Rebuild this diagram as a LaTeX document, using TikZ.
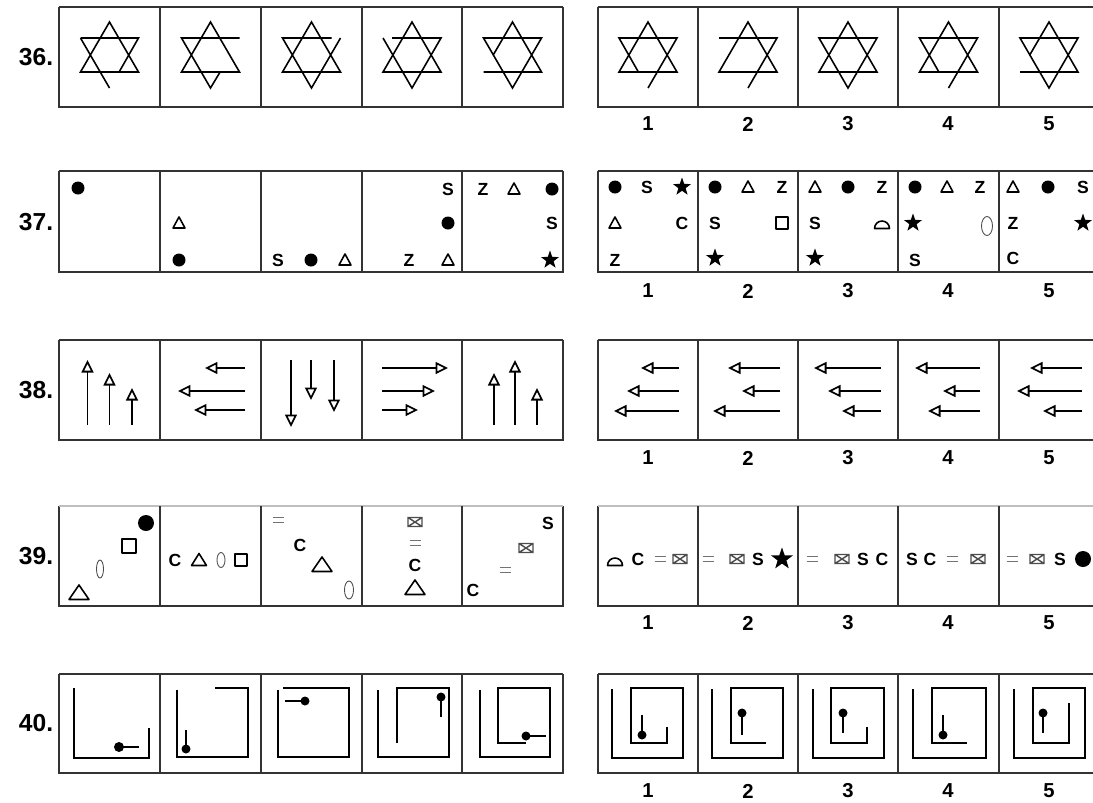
\documentclass[tikz,border=0pt]{standalone}
\usepackage{fontspec}
\setmainfont{Liberation Sans}
\usetikzlibrary{shapes.geometric, arrows.meta}

\tikzset{
  frame/.style={line width=1.1pt, draw=black!80},
  starline/.style={line width=0.9pt},
  symline/.style={line width=0.9pt, line join=round},
  spiral/.style={line width=1.1pt},
  zeroline/.style={line width=0.5pt, draw=black!70},
  letter/.style={font=\bfseries\fontsize{10}{11}\selectfont, inner sep=0pt},
  rowlabel/.style={font=\bfseries\fontsize{14}{15}\selectfont, inner sep=0pt},
  numlabel/.style={font=\bfseries\fontsize{11.5}{12}\selectfont, inner sep=0pt},
  openarrow/.style={line width=1pt, -{Triangle[open, length=2.5mm, width=2.4mm, line width=1pt]}},
  symtri/.pic={\draw[symline] (-6,5) -- (0,-6) -- (6,5) -- cycle;},
  midtri/.pic={\draw[symline] (-7.5,5.5) -- (0,-6.5) -- (7.5,5.5) -- cycle;},
  bigtri/.pic={\draw[symline] (-10,6.5) -- (0,-8) -- (10,6.5) -- cycle;},
  symdot/.pic={\fill (0,0) circle (6.5);},
  bigdot/.pic={\fill (0,0) circle (8);},
  symbox/.pic={\draw[symline] (-6,-6) rectangle (6,6);},
  bigbox/.pic={\draw[symline] (-7,-7) rectangle (7,7);},
  symcap/.pic={\draw[symline] (-7.5,3.5) arc[start angle=180, end angle=360, radius=7.5] -- cycle;},
  symcross/.pic={\draw[line width=0.8pt, black!70] (-7,-4.5) rectangle (7,4.5) (-7,-4.5) -- (7,4.5) (-7,4.5) -- (7,-4.5);},
  symeq/.pic={\draw[line width=1pt, black!55] (-5.5,-2.5) -- (5.5,-2.5) (-5.5,2.5) -- (5.5,2.5);},
  symstar/.pic={\node[star, star points=5, star point ratio=2.5, fill, inner sep=0pt, minimum size=3.8mm] {};},
  bigstar/.pic={\node[star, star points=5, star point ratio=2.5, fill, inner sep=0pt, minimum size=4.6mm] {};},
}

% one row of answer cells: top, bottom, colour of the top edge
\newcommand{\cellrow}[3]{%
  \draw[frame] (59,#1) -- (59,#2) -- (563,#2) -- (563,#1);
  \draw[frame] (598,#1) -- (598,#2) -- (1099,#2) -- (1099,#1);
  \draw[frame, draw=#3] (59,#1) -- (563,#1) (598,#1) -- (1099,#1);
  \foreach \x in {160,261,362,462} \draw[frame] (\x,#1) -- (\x,#2);
  \foreach \x in {698,798,898,999} \draw[frame] (\x,#1) -- (\x,#2);
}
\newcommand{\answernums}[2]{%
  \foreach \n [count=\k] in {648,748,848,948,1049} \node[numlabel] (num#1-\k) at (\n,#2) {\k};
}
\newcommand{\davidstar}[2]{\draw[starline, shift={#1}] #2;}

\begin{document}
\begin{tikzpicture}[x=0.02cm, y=-0.02cm]
  \useasboundingbox (0,0) rectangle (1093,802);
  \clip (0,0) rectangle (1093,802);

  \node[rowlabel] (lab36) at (36,57) {36.};
  \node[rowlabel] (lab37) at (36,222) {37.};
  \node[rowlabel] (lab38) at (36,390) {38.};
  \node[rowlabel] (lab39) at (36,556) {39.};
  \node[rowlabel] (lab40) at (36,723) {40.};

  \cellrow{7}{107}{black!80}
  \cellrow{171}{272}{black!80}
  \cellrow{340}{440}{black!80}
  \cellrow{506}{606}{black!25}
  \cellrow{674}{773}{black!80}

  \answernums{36}{124}
  \answernums{37}{291}
  \answernums{38}{458}
  \answernums{39}{623}
  \answernums{40}{791}

  % 36: stars
  \davidstar{(109.5,55)}{(-29,17) -- (0,-33) -- (29,17) -- cycle (-29,-17) -- (29,-17) -- (9.6,17) (-29,-17) -- (0,33)}
  \davidstar{(210.5,55)}{(-29,17) -- (0,-33) -- (29,17) -- cycle (29,-17) -- (-29,-17) -- (0,33) -- (9.6,17)}
  \davidstar{(311.5,55)}{(-29,17) -- (0,-33) -- (29,17) -- cycle (20,-17) -- (-29,-17) -- (0,33) -- (29,-17)}
  \davidstar{(412,55)}{(-29,17) -- (0,-33) -- (29,17) -- cycle (-20,-17) -- (29,-17) -- (0,33) -- (-29,-17)}
  \davidstar{(512.5,55)}{(-19.3,0) -- (0,-33) -- (29,17) -- (-29,17) (-29,-17) -- (0,33) -- (29,-17) -- cycle}
  \davidstar{(648,55)}{(-29,17) -- (0,-33) -- (29,17) -- cycle (-9.6,17) -- (-29,-17) -- (29,-17) -- (0,33)}
  \davidstar{(748,55)}{(-29,17) -- (0,-33) -- (29,17) -- cycle (-29,-17) -- (29,-17) -- (0,33)}
  \davidstar{(848,55)}{(-29,17) -- (0,-33) -- (29,17) -- cycle (-29,-17) -- (0,33) -- (29,-17) -- cycle}
  \davidstar{(948.5,55)}{(-29,17) -- (0,-33) -- (29,17) -- cycle (-9.6,17) -- (-29,-17) -- (29,-17) -- (0,33)}
  \davidstar{(1049,55)}{(-19.3,0) -- (0,-33) -- (29,17) -- (-29,17) (-29,-17) -- (0,33) -- (29,-17) -- cycle}

  % 37: symbols in a 3x3 grid
  \foreach \x/\y in {78/188, 179/260, 311/260, 448/223, 552/189, 615/187, 715/187, 848/187, 915/187, 1048/187}
    \pic at (\x,\y) {symdot};
  \foreach \x/\y in {179/223, 345/260, 448/260, 514/189, 615/223, 748/187, 815/187, 947/187, 1013/187}
    \pic at (\x,\y) {symtri};
  \foreach \x/\y in {550/260, 682/187, 715/258, 815/258, 913/223, 1083/223}
    \pic at (\x,\y) {symstar};
  \foreach \x/\y/\t [count=\i] in {278/260/S, 448/189/S, 409/260/Z, 483/189/Z, 552/223/S,
      647/187/S, 682/223/C, 615/260/Z, 782/187/Z, 715/223/S, 882/187/Z, 815/223/S,
      980/187/Z, 915/260/S, 1083/187/S, 1013/223/Z, 1013/258/C}
    \node[letter] (q37-\i) at (\x,\y) {\t};
  \pic at (782,223) {symbox};
  \pic at (882,225) {symcap};
  \draw[zeroline] (987,226) ellipse [x radius=5.5, y radius=9.5];

  % 38: arrows
  \foreach \x/\t in {87.5/360, 109.5/373, 132/388, 494/373, 515/360, 537/388}
    \draw[openarrow] (\x,425) -- (\x,\t);
  \foreach \x/\t in {291/427, 311/400, 334/412}
    \draw[openarrow] (\x,360) -- (\x,\t);
  \foreach \y/\t in {368/205, 391/178, 410/194}
    \draw[openarrow] (245,\y) -- (\t,\y);
  \foreach \y/\t in {368/448, 391/435, 410/418}
    \draw[openarrow] (382,\y) -- (\t,\y);
  \foreach \s/\a/\b/\c in {679/641/627/614, 780/728/742/713, 881/814/828/842, 980/915/943/928, 1082/1030/1017/1043} {
    \draw[openarrow] (\s,368) -- (\a,368);
    \draw[openarrow] (\s,391) -- (\b,391);
    \draw[openarrow] (\s,411) -- (\c,411);
  }

  % 39: symbols
  \pic at (146,523) {bigdot};
  \pic at (129,546) {bigbox};
  \draw[zeroline] (100,569) ellipse [x radius=3.5, y radius=9];
  \pic at (79,593) {bigtri};
  \node[letter] (q39-1) at (175,560) {C};
  \pic at (199,560) {midtri};
  \draw[zeroline] (221,560) ellipse [x radius=4, y radius=7.5];
  \pic at (241,560) {symbox};
  \pic at (278,520) {symeq};
  \node[letter] (q39-2) at (300,545) {C};
  \pic at (322,565) {bigtri};
  \draw[zeroline] (349,590) ellipse [x radius=4.5, y radius=9];
  \pic at (415,522) {symcross};
  \pic at (415,543) {symeq};
  \node[letter] (q39-3) at (415,565) {C};
  \pic at (415,588) {bigtri};
  \node[letter] (q39-4) at (548,523) {S};
  \pic at (526,548) {symcross};
  \pic at (505,570) {symeq};
  \node[letter] (q39-5) at (473,590) {C};
  \foreach \x in {660, 708, 812, 952, 1012} \pic at (\x,559) {symeq};
  \foreach \x in {680, 737, 842, 978, 1037} \pic at (\x,559) {symcross};
  \foreach \x/\t [count=\i] in {638/C, 758/S, 863/S, 882/C, 912/S, 930/C, 1060/S}
    \node[letter] (a39-\i) at (\x,559) {\t};
  \pic at (615,562) {symcap};
  \pic at (782,559) {bigstar};
  \pic at (1083,559) {bigdot};

  % 40: spirals with a pin
  \draw[spiral] (74,688) -- (74,758) -- (149,758) -- (149,728);
  \draw[spiral] (119,747) -- (139,747); \fill (119,747) circle (5);
  \draw[spiral] (177,690) -- (177,757) -- (248,757) -- (248,688) -- (215,688);
  \draw[spiral] (186,730) -- (186,749); \fill (186,749) circle (4.5);
  \draw[spiral] (278,690) -- (278,757) -- (349,757) -- (349,688) -- (283,688);
  \draw[spiral] (285,701) -- (305,701); \fill (305,701) circle (4.5);
  \draw[spiral] (378,690) -- (378,757) -- (449,757) -- (449,688) -- (397,688) -- (397,743);
  \draw[spiral] (441,697) -- (441,717); \fill (441,697) circle (4.5);
  \draw[spiral] (480,690) -- (480,757) -- (550,757) -- (550,688) -- (498,688) -- (498,743) -- (526,743);
  \draw[spiral] (526,736) -- (546,736); \fill (526,736) circle (4.5);

  \draw[spiral] (612,689) -- (612,758) -- (683,758) -- (683,688) -- (631,688) -- (631,743) -- (667,743) -- (667,727);
  \draw[spiral] (642,715) -- (642,735); \fill (642,735) circle (4.5);
  \draw[spiral] (712,689) -- (712,758) -- (783,758) -- (783,688) -- (731,688) -- (731,743) -- (766,743);
  \draw[spiral] (742,713) -- (742,735); \fill (742,713) circle (4.5);
  \draw[spiral] (813,689) -- (813,758) -- (884,758) -- (884,688) -- (831,688) -- (831,743) -- (867,743) -- (867,727);
  \draw[spiral] (843,713) -- (843,733); \fill (843,713) circle (4.5);
  \draw[spiral] (913,689) -- (913,758) -- (986,758) -- (986,688) -- (932,688) -- (932,743) -- (967,743);
  \draw[spiral] (943,715) -- (943,735); \fill (943,735) circle (4.5);
  \draw[spiral] (1014,689) -- (1014,758) -- (1085,758) -- (1085,688) -- (1033,688) -- (1033,743) -- (1069,743) -- (1069,703);
  \draw[spiral] (1043,713) -- (1043,733); \fill (1043,713) circle (4.5);
\end{tikzpicture}
\end{document}
